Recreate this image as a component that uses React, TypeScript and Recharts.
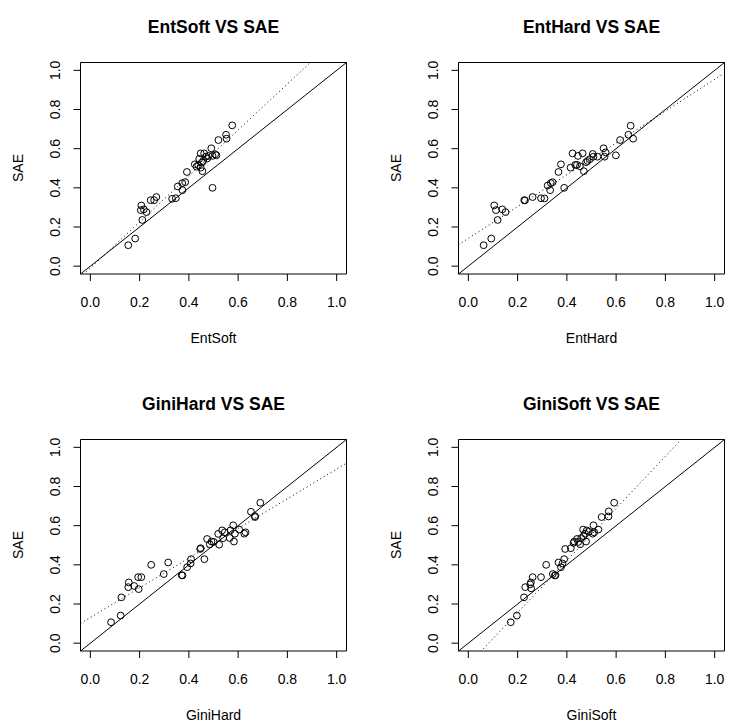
import { Label, ReferenceArea, ReferenceLine, Scatter, ScatterChart, XAxis, YAxis } from "recharts";

const FONT = "'Liberation Sans', Arial, Helvetica, sans-serif";

const entSoftX = [0.154, 0.182, 0.211, 0.207, 0.205, 0.217, 0.228, 0.245, 0.259, 0.268, 0.332, 0.347, 0.355, 0.374, 0.373, 0.385, 0.392, 0.496, 0.424, 0.431, 0.438, 0.448, 0.455, 0.453, 0.458, 0.448, 0.462, 0.469, 0.48, 0.491, 0.496, 0.507, 0.512, 0.52, 0.551, 0.553, 0.576, 0.442, 0.475];
const entSoftSAE = [0.107, 0.141, 0.236, 0.31, 0.286, 0.29, 0.276, 0.337, 0.337, 0.353, 0.344, 0.347, 0.407, 0.388, 0.424, 0.429, 0.481, 0.4, 0.52, 0.508, 0.515, 0.503, 0.485, 0.529, 0.537, 0.576, 0.576, 0.559, 0.563, 0.602, 0.563, 0.571, 0.566, 0.644, 0.671, 0.651, 0.719, 0.548, 0.55];

const entHardX = [0.062, 0.093, 0.119, 0.105, 0.112, 0.138, 0.151, 0.227, 0.23, 0.261, 0.295, 0.309, 0.322, 0.332, 0.335, 0.342, 0.366, 0.376, 0.389, 0.415, 0.423, 0.434, 0.441, 0.445, 0.453, 0.464, 0.469, 0.478, 0.484, 0.493, 0.505, 0.508, 0.524, 0.549, 0.553, 0.557, 0.599, 0.616, 0.65, 0.659, 0.669];
const entHardSAE = [0.107, 0.141, 0.236, 0.31, 0.286, 0.29, 0.276, 0.337, 0.336, 0.353, 0.347, 0.346, 0.412, 0.388, 0.424, 0.429, 0.481, 0.52, 0.4, 0.503, 0.576, 0.517, 0.517, 0.563, 0.51, 0.576, 0.485, 0.531, 0.537, 0.546, 0.573, 0.559, 0.559, 0.602, 0.559, 0.581, 0.566, 0.644, 0.671, 0.717, 0.651];

const giniHardX = [0.084, 0.123, 0.126, 0.156, 0.154, 0.178, 0.196, 0.194, 0.207, 0.247, 0.298, 0.316, 0.371, 0.374, 0.393, 0.407, 0.409, 0.446, 0.448, 0.463, 0.474, 0.485, 0.492, 0.501, 0.519, 0.523, 0.535, 0.539, 0.546, 0.566, 0.569, 0.58, 0.583, 0.587, 0.604, 0.625, 0.63, 0.652, 0.668, 0.669, 0.69];
const giniHardSAE = [0.107, 0.141, 0.234, 0.31, 0.286, 0.292, 0.276, 0.337, 0.337, 0.4, 0.353, 0.412, 0.347, 0.346, 0.388, 0.407, 0.429, 0.481, 0.485, 0.429, 0.532, 0.505, 0.519, 0.517, 0.558, 0.503, 0.576, 0.536, 0.566, 0.537, 0.576, 0.602, 0.519, 0.559, 0.58, 0.559, 0.566, 0.671, 0.649, 0.644, 0.717];

const giniSoftX = [0.172, 0.197, 0.226, 0.231, 0.251, 0.255, 0.261, 0.254, 0.295, 0.316, 0.343, 0.351, 0.354, 0.366, 0.376, 0.382, 0.389, 0.393, 0.416, 0.427, 0.43, 0.441, 0.446, 0.454, 0.458, 0.466, 0.468, 0.474, 0.478, 0.481, 0.489, 0.505, 0.508, 0.511, 0.528, 0.541, 0.569, 0.57, 0.592];
const giniSoftSAE = [0.107, 0.141, 0.234, 0.286, 0.3, 0.28, 0.337, 0.31, 0.337, 0.4, 0.353, 0.346, 0.347, 0.412, 0.388, 0.407, 0.429, 0.481, 0.485, 0.512, 0.519, 0.532, 0.517, 0.505, 0.537, 0.58, 0.546, 0.559, 0.519, 0.576, 0.569, 0.559, 0.602, 0.566, 0.58, 0.644, 0.647, 0.673, 0.717];

const xNames = ["EntSoft", "EntHard", "GiniHard", "GiniSoft"];
const fitIntercept = [-0.0095, 0.142, 0.131, -0.11];
const fitSlope = [1.175, 0.812, 0.758, 1.33];
const axisTicks = [0, 0.2, 0.4, 0.6, 0.8, 1.0];
const LO = -0.04;
const HI = 1.04;

const fmt = (v: number) => v.toFixed(1);

function Ring(props: any) {
  return <circle cx={props.cx} cy={props.cy} r={3.4} fill="none" stroke="#000" strokeWidth={1} />;
}

function RotTick(props: any) {
  const { x, y, payload } = props;
  return (
    <text x={x} y={y} transform={`rotate(-90 ${x} ${y})`} textAnchor="middle" fontSize={14} fontFamily={FONT} fill="#000">
      {fmt(payload.value)}
    </text>
  );
}

function Panel({ name, xs, ys, a, b, left, top }: { name: string; xs: number[]; ys: number[]; a: number; b: number; left: number; top: number }) {
  const data = xs.map((x, i) => ({ x, y: ys[i] }));
  return (
    <div style={{ position: "absolute", left, top, width: 364, height: 350 }}>
      <ScatterChart width={364} height={350} margin={{ top: 62.5, right: 17.5, bottom: 46, left: 40.5 }}>
        <XAxis
          type="number"
          dataKey="x"
          domain={[LO, HI]}
          ticks={axisTicks}
          interval={0}
          tickFormatter={fmt}
          axisLine={false}
          tickLine={{ stroke: "#000" }}
          tickSize={7}
          tickMargin={16}
          height={30}
          allowDataOverflow
          tick={{ fontSize: 14, fill: "#000", fontFamily: FONT }}
        >
          <Label
            content={() => (
              <text x={213.5} y={343} textAnchor="middle" fontSize={14} fontFamily={FONT} fill="#000">
                {name}
              </text>
            )}
          />
        </XAxis>
        <YAxis
          type="number"
          dataKey="y"
          domain={[LO, HI]}
          ticks={axisTicks}
          interval={0}
          axisLine={false}
          tickLine={{ stroke: "#000" }}
          tickSize={7}
          tickMargin={13.5}
          width={40}
          allowDataOverflow
          tick={<RotTick />}
        >
          <Label
            content={() => (
              <text x={23} y={168} transform="rotate(-90 23 168)" textAnchor="middle" fontSize={14} fontFamily={FONT} fill="#000">
                SAE
              </text>
            )}
          />
        </YAxis>
        <ReferenceArea
          x1={LO}
          x2={HI}
          y1={LO}
          y2={HI}
          fill="none"
          fillOpacity={0}
          stroke="#000"
          strokeWidth={1}
          label={{
            content: () => (
              <text x={213.5} y={32.5} textAnchor="middle" fontSize={17.5} fontWeight="bold" fontFamily={FONT} fill="#000">
                {name} VS SAE
              </text>
            ),
          }}
        />
        <ReferenceLine segment={[{ x: LO, y: LO }, { x: HI, y: HI }]} stroke="#000" strokeWidth={1} />
        <ReferenceLine
          segment={[{ x: LO, y: a + b * LO }, { x: HI, y: a + b * HI }]}
          stroke="#000"
          strokeWidth={1}
          strokeDasharray="1 3"
          ifOverflow="hidden"
        />
        <Scatter data={data} shape={Ring} isAnimationActive={false} />
      </ScatterChart>
    </div>
  );
}

export default function App() {
  const xsList = [entSoftX, entHardX, giniHardX, giniSoftX];
  const ysList = [entSoftSAE, entHardSAE, giniHardSAE, giniSoftSAE];
  return (
    <div style={{ position: "absolute", left: 0, top: 0, width: 729, height: 725, overflow: "hidden", background: "#fff" }}>
      {xNames.map((name, i) => (
        <Panel
          key={name}
          name={name}
          xs={xsList[i]}
          ys={ysList[i]}
          a={fitIntercept[i]}
          b={fitSlope[i]}
          left={(i % 2) * 378}
          top={Math.floor(i / 2) * 377}
        />
      ))}
    </div>
  );
}
